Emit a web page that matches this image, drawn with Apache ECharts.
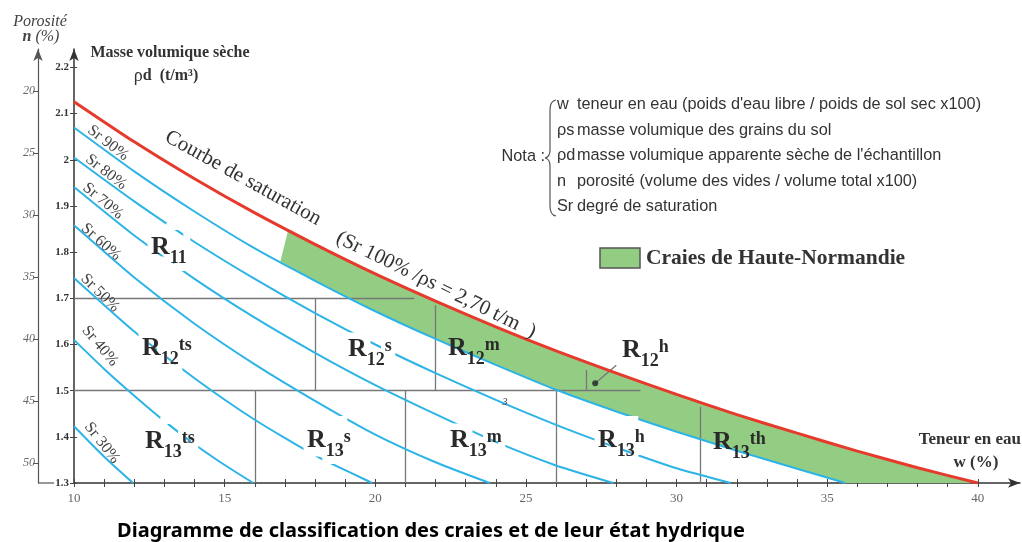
<!DOCTYPE html>
<html>
<head>
<meta charset="utf-8">
<script src="https://cdn.jsdelivr.net/npm/echarts@6/dist/echarts.min.js"></script>
<style>
html,body{margin:0;padding:0;background:#fff}
#main{width:1022px;height:542px}
</style>
</head>
<body>
<div id="main"></div>
<script>
var satCurve = [[10,2.126],[12,2.039],[14,1.959],[16,1.885],[18,1.817],[20,1.753],[22,1.694],[24,1.638],[26,1.586],[28,1.538],[30,1.492],[32,1.448],[34,1.408],[36,1.369],[38,1.333],[40,1.30]];
var sr90 = [[10,2.070],[12,1.975],[14,1.888],[16,1.808],[18,1.738],[20,1.672],[22,1.612],[24,1.556],[26,1.502],[28,1.455],[30,1.411],[32,1.370],[34,1.331],[35.6,1.30]];
var sr80 = [[10,2.005],[12,1.910],[14,1.822],[16,1.742],[18,1.668],[20,1.600],[22,1.538],[24,1.480],[26,1.426],[28,1.377],[30,1.332],[31.8,1.30]];
var sr70 = [[10,1.941],[12,1.836],[14,1.742],[16,1.658],[18,1.582],[20,1.512],[22,1.449],[24,1.389],[26,1.338],[27.9,1.30]];
var sr60 = [[10,1.858],[12,1.745],[14,1.645],[16,1.557],[18,1.478],[20,1.405],[22,1.345],[23.8,1.30]];
var sr50 = [[10,1.744],[12,1.628],[14,1.527],[16,1.437],[18,1.360],[19.9,1.30]];
var sr40 = [[10,1.610],[11,1.547],[12,1.489],[13,1.434],[14,1.384],[15,1.339],[15.95,1.30]];
var sr30 = [[10,1.423],[11,1.357],[11.96,1.30]];
var srCurves = [sr90, sr80, sr70, sr60, sr50, sr40, sr30];
var srNames = ['Sr 90%','Sr 80%','Sr 70%','Sr 60%','Sr 50%','Sr 40%','Sr 30%'];

// zone des craies de Haute-Normandie (entre Sr 90% et la saturation)
var greenStartTop = [17.1, 1.845];
var greenStartBottom = [16.85, 1.78];

// limites des classes
var classLines = [
  [[10,1.7],[21.3,1.7]], [[10,1.5],[28.8,1.5]],
  [[18,1.7],[18,1.5]], [[22,1.685],[22,1.5]], [[27,1.545],[27,1.5]],
  [[16,1.5],[16,1.3]], [[21,1.5],[21,1.3]], [[26,1.5],[26,1.3]], [[30.8,1.465],[30.8,1.3]]
];
var pointerLine = [[28.0,1.555],[27.3,1.516]];

var wTicks = [10,11,12,13,14,15,16,17,18,19,20,21,22,23,24,25,26,27,28,29,30,31,32,33,34,35,36,37,38,39,40];
var wLabels = [10,15,20,25,30,35,40];
var rhoTicks = [1.3,1.4,1.5,1.6,1.7,1.8,1.9,2.0,2.1,2.2];
var nTicks = [20,25,30,35,40,45,50];

var classNames = [['11',''],['12','ts'],['12','s'],['12','m'],['12','h'],['13','ts'],['13','s'],['13','m'],['13','h'],['13','th']];
var noteSymbols = ['w','ρs','ρd','n','Sr'];
var noteTexts = ["teneur en eau (poids d'eau libre / poids de sol sec x100)", 'masse volumique des grains du sol',
  "masse volumique apparente sèche de l'échantillon", 'porosité (volume des vides / volume total x100)', 'degré de saturation'];

var SERIF = '"Liberation Serif", "DejaVu Serif", serif';
var SANS = '"Liberation Sans", Arial, sans-serif';
var CYAN = '#2db4e6', RED = '#e63a2c', GREEN = '#93cd84', GRID = '#777';

var chart = echarts.init(document.getElementById('main'));

var series = [];
var greenTop = [greenStartTop].concat(satCurve.filter(function (p) { return p[0] > greenStartTop[0]; }));
var greenBottom = [greenStartBottom].concat(sr90.filter(function (p) { return p[0] > greenStartBottom[0]; }));
series.push({
  type: 'custom', data: [[10, 1.3]], silent: true, z: 1,
  renderItem: function (params, api) {
    var pts = greenTop.concat(greenBottom.slice().reverse()).map(function (p) { return api.coord(p); });
    return { type: 'polygon', shape: { points: pts }, style: { fill: GREEN } };
  }
});
series.push({
  type: 'lines', coordinateSystem: 'cartesian2d', silent: true, z: 2,
  data: classLines.concat([pointerLine]).map(function (s) { return { coords: s }; }),
  lineStyle: { color: GRID, width: 1.3, opacity: 1 }
});
srCurves.forEach(function (d, i) {
  series.push({ type: 'line', name: srNames[i], data: d, symbol: 'none', smooth: 0.2, silent: true, z: 3,
    lineStyle: { color: CYAN, width: 2 } });
});
series.push({ type: 'line', name: 'Sr 100%', data: satCurve, symbol: 'none', smooth: 0.2, silent: true, z: 4,
  lineStyle: { color: RED, width: 3 } });
series.push({ type: 'scatter', data: [pointerLine[1]], symbolSize: 6, itemStyle: { color: '#222' }, silent: true, z: 5 });

// textes
var g = [];
function txt(x, y, text, st, extra) {
  var o = { type: 'text', x: x, y: y, z: 100, style: Object.assign({ text: text, fontFamily: SERIF, fontSize: 14, fill: '#333', align: 'center', verticalAlign: 'middle' }, st) };
  return Object.assign(o, extra || {});
}
g.push(txt(40, 22, 'Porosité', { fontSize: 16, fontStyle: 'italic', fill: '#444' }));
g.push(txt(41, 37, '{b|n} (%)', { fontSize: 16, fontStyle: 'italic', fill: '#444', rich: { b: { fontWeight: 'bold', fontStyle: 'italic', fontSize: 16, fontFamily: SERIF, fill: '#444' } } }));
g.push(txt(170, 53, 'Masse volumique sèche', { fontSize: 16, fontWeight: 'bold' }));
g.push(txt(166, 76, 'ρ{b|d  (t/m³)}', { fontSize: 18, rich: { b: { fontWeight: 'bold', fontSize: 16, fontFamily: SERIF, fill: '#333' } } }));
g.push(txt(1021, 440, 'Teneur en eau', { fontSize: 17, fontWeight: 'bold', align: 'right' }));
g.push(txt(976, 463, 'w (%)', { fontSize: 17, fontWeight: 'bold' }));
g.push(txt(243, 178, 'Courbe de saturation', { fontSize: 21 }, { rotation: -29 * Math.PI / 180 }));
g.push(txt(436, 285, '(Sr 100% /ρs = 2,70 t/m  )', { fontSize: 21 }, { rotation: -26 * Math.PI / 180 }));
g.push(txt(505, 402, '3', { fontSize: 10, fontStyle: 'italic' }));

var srLabelLayout = [[108,143,-38],[106,172,-38],[103,201,-40],[101,242,-42],[100,293,-45],[100,346,-50],[102,443,-52]];
srNames.forEach(function (s, i) {
  var p = srLabelLayout[i];
  g.push(txt(p[0], p[1], s, { fontSize: 16, fill: '#444' }, { rotation: p[2] * Math.PI / 180 }));
});

var classLayout = [[151,247,1],[142,348,1],[348,349,1],[448,348,0],[622,350,1],[145,441,1],[307,440,1],[450,440,1],[598,440,1],[713,442,0]];
classNames.forEach(function (c, i) {
  var p = classLayout[i];
  var label = '{r|R}{s|' + c[0] + '}' + (c[1] ? '{p|' + c[1] + '}' : '');
  function rich(extra) {
    var base = Object.assign({ fontFamily: SERIF, fontWeight: 'bold', fill: '#2a2a2a', verticalAlign: 'middle' }, extra);
    return {
      r: Object.assign({ fontSize: 26 }, base),
      s: Object.assign({ fontSize: 18, padding: [23, 0, 0, 0] }, base),
      p: Object.assign({ fontSize: 18, padding: [0, 0, 5, 0] }, base)
    };
  }
  if (p[2]) {
    // fond blanc qui coupe les courbes sous l'etiquette
    var halo = txt(p[0], p[1], label, { align: 'left', rich: rich({ fill: '#fff', textBorderColor: '#fff', textBorderWidth: 7 }) });
    halo.z = 99;
    g.push(halo);
  }
  g.push(txt(p[0], p[1], label, { align: 'left', rich: rich({}) }));
});

// nota
g.push(txt(545, 157, 'Nota :', { fontFamily: SANS, fontSize: 16.3, align: 'right' }));
var braceStyle = { fill: 'none', stroke: '#555', lineWidth: 1.2 };
g.push({ type: 'bezierCurve', z: 100, shape: { x1: 556, y1: 100, x2: 550, y2: 110, cpx1: 550, cpy1: 101 }, style: braceStyle });
g.push({ type: 'line', z: 100, shape: { x1: 550, y1: 110, x2: 550, y2: 150 }, style: braceStyle });
g.push({ type: 'bezierCurve', z: 100, shape: { x1: 550, y1: 150, x2: 545, y2: 158, cpx1: 550, cpy1: 157 }, style: braceStyle });
g.push({ type: 'bezierCurve', z: 100, shape: { x1: 545, y1: 158, x2: 550, y2: 166, cpx1: 550, cpy1: 159 }, style: braceStyle });
g.push({ type: 'line', z: 100, shape: { x1: 550, y1: 166, x2: 550, y2: 206 }, style: braceStyle });
g.push({ type: 'bezierCurve', z: 100, shape: { x1: 550, y1: 206, x2: 556, y2: 216, cpx1: 550, cpy1: 215 }, style: braceStyle });
noteSymbols.forEach(function (s, i) {
  var y = 105 + i * 25.5;
  g.push(txt(557, y, s, { fontFamily: SANS, fontSize: 16.3, align: 'left' }));
  g.push(txt(577, y, noteTexts[i], { fontFamily: SANS, fontSize: 16.3, align: 'left' }));
});

// legende
g.push({ type: 'rect', z: 100, shape: { x: 600, y: 248, width: 40, height: 20 }, style: { fill: GREEN, stroke: '#555', lineWidth: 1.5 } });
g.push(txt(646, 258, 'Craies de Haute-Normandie', { fontSize: 21.5, fontWeight: 'bold', align: 'left' }));

// pied de l'axe des porosites
g.push({ type: 'line', z: 100, shape: { x1: 38, y1: 483, x2: 54, y2: 483 }, style: { stroke: '#555', lineWidth: 1.2 } });

g.push(txt(431, 531, 'Diagramme de classification des craies et de leur état hydrique',
  { fontFamily: '"Noto Sans", sans-serif', fontSize: 20, fontWeight: 'bold', fill: '#000' }));

var tickStyle = { color: '#444' };
chart.setOption({
  animation: false,
  grid: { left: 74, right: 2, top: 49, bottom: 59 },
  xAxis: [{
    type: 'value', min: 10, max: 41.4,
    axisLine: { onZero: false, lineStyle: { color: '#333', width: 1.5 }, symbol: ['none', 'arrow'], symbolSize: [7, 12] },
    axisTick: { customValues: wTicks, length: 4, lineStyle: tickStyle },
    axisLabel: { customValues: wLabels, fontFamily: SERIF, fontSize: 13, color: '#666', margin: 9 },
    splitLine: { show: false }
  }, {
    // moitie haute des graduations, qui traversent l'axe
    type: 'value', min: 10, max: 41.4, position: 'top', offset: -434,
    axisLine: { show: false, onZero: false },
    axisTick: { show: true, customValues: wTicks, length: 4, lineStyle: tickStyle },
    axisLabel: { show: false },
    splitLine: { show: false }
  }],
  yAxis: [{
    type: 'value', min: 1.3, max: 2.24,
    axisLine: { show: true, onZero: false, lineStyle: { color: '#333', width: 1.5 }, symbol: ['none', 'arrow'], symbolSize: [7, 12] },
    axisTick: { show: true, customValues: rhoTicks, length: 4, lineStyle: tickStyle },
    axisLabel: { customValues: rhoTicks, formatter: function (v) { return String(+v.toFixed(1)); }, fontFamily: SERIF, fontSize: 11, fontWeight: 'bold', color: '#333', margin: 5 },
    splitLine: { show: false }
  }, {
    type: 'value', position: 'left', offset: 36, min: 16.6, max: 51.6, inverse: true,
    axisLine: { show: true, onZero: false, lineStyle: { color: '#555', width: 1.2 }, symbol: ['none', 'arrow'], symbolSize: [7, 12] },
    axisTick: { show: true, customValues: nTicks, length: 5, lineStyle: { color: '#555' } },
    axisLabel: { customValues: nTicks, fontFamily: SERIF, fontSize: 12, fontStyle: 'italic', color: '#666', margin: 3 },
    splitLine: { show: false }
  }, {
    type: 'value', position: 'right', offset: -946, min: 1.3, max: 2.24,
    axisLine: { show: false, onZero: false },
    axisTick: { show: true, customValues: rhoTicks, length: 3, lineStyle: tickStyle },
    axisLabel: { show: false },
    splitLine: { show: false }
  }],
  series: series,
  graphic: g
});
</script>
</body>
</html>
